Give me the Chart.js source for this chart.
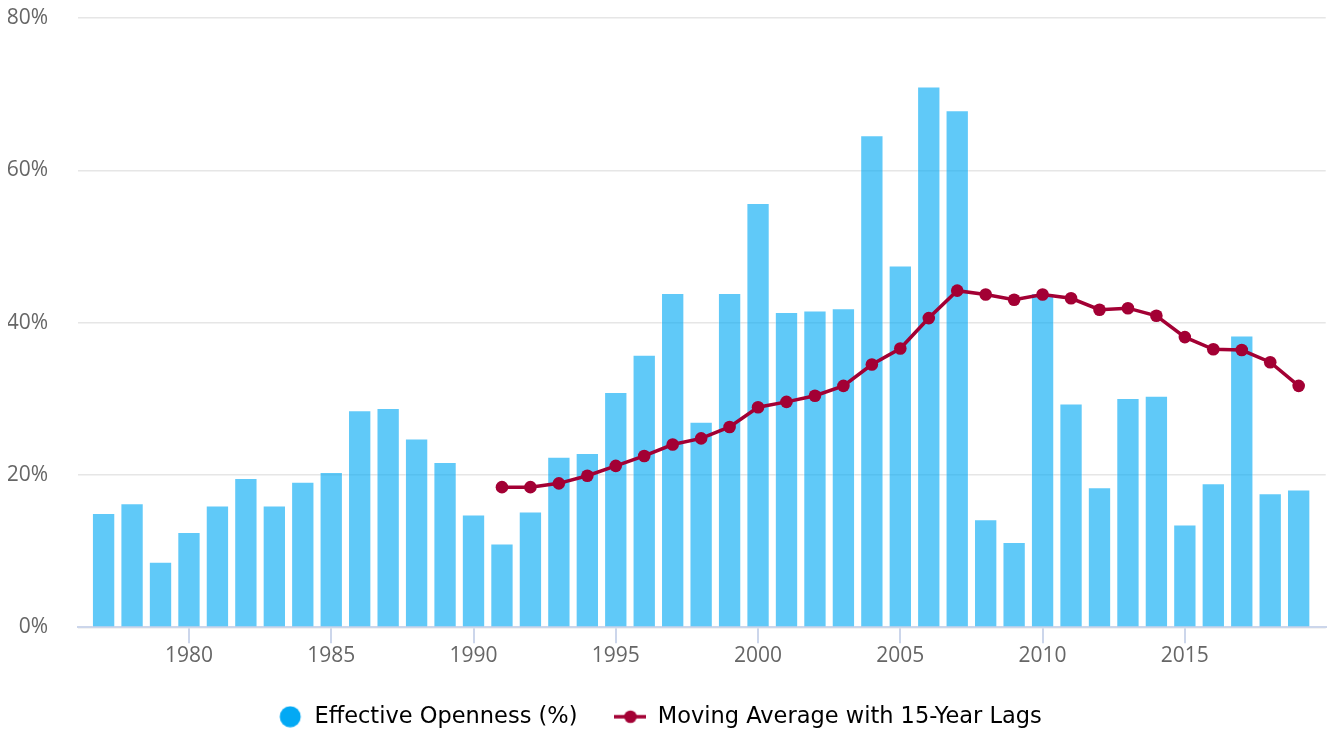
<!DOCTYPE html>
<html>
<head>
<meta charset="utf-8">
<script src="https://cdn.jsdelivr.net/npm/chart.js@4/dist/chart.umd.min.js"></script>
<style>
  html, body { margin: 0; padding: 0; background: #fff; }
  #wrap { width: 1332px; height: 734px; }
</style>
</head>
<body>
<div id="wrap"><canvas id="chart" width="1332" height="734"></canvas></div>
<script>
const years = [1977, 1978, 1979, 1980, 1981, 1982, 1983, 1984, 1985, 1986,
  1987, 1988, 1989, 1990, 1991, 1992, 1993, 1994, 1995, 1996,
  1997, 1998, 1999, 2000, 2001, 2002, 2003, 2004, 2005, 2006,
  2007, 2008, 2009, 2010, 2011, 2012, 2013, 2014, 2015, 2016,
  2017, 2018, 2019];
const openness = [15.0, 16.3, 8.6, 12.5, 16.0, 19.6, 16.0, 19.1, 20.4, 28.5,
  28.8, 24.8, 21.7, 14.8, 11.0, 15.2, 22.4, 22.9, 30.9, 35.8,
  43.9, 27.0, 43.9, 55.7, 41.4, 41.6, 41.9, 64.6, 47.5, 71.0,
  67.9, 14.2, 11.2, 43.9, 29.4, 18.4, 30.1, 30.4, 13.5, 18.9,
  38.3, 17.6, 18.1];

const maYears = [1991, 1992, 1993, 1994, 1995, 1996, 1997, 1998, 1999, 2000,
  2001, 2002, 2003, 2004, 2005, 2006, 2007, 2008, 2009, 2010,
  2011, 2012, 2013, 2014, 2015, 2016, 2017, 2018, 2019];
const movingAvg = [18.4, 18.4, 18.9, 19.9, 21.2, 22.5, 24.0, 24.8, 26.3, 28.9,
  29.6, 30.4, 31.7, 34.5, 36.6, 40.6, 44.2, 43.7, 43.0, 43.7,
  43.2, 41.7, 41.9, 40.9, 38.1, 36.5, 36.4, 34.8, 31.7];

const xTicks = [1980, 1985, 1990, 1995, 2000, 2005, 2010, 2015];
const yTicks = [0, 20, 40, 60, 80];

const barColor = "rgba(3, 169, 244, 0.63)";
const legendBlue = "#03a9f4";
const lineColor = "#a30034";
const tickFont = { family: "'Open Sans', sans-serif", size: 21 };

// legend swatches drawn by hand so the line entry gets its dot
function swatch(draw) {
  const c = document.createElement("canvas");
  c.width = 32;
  c.height = 22;
  draw(c.getContext("2d"));
  return c;
}
const circleIcon = swatch((g) => {
  g.fillStyle = legendBlue;
  g.beginPath();
  g.arc(19, 11, 10.5, 0, Math.PI * 2);
  g.fill();
});
const lineIcon = swatch((g) => {
  g.strokeStyle = lineColor;
  g.lineWidth = 3.5;
  g.beginPath();
  g.moveTo(0, 11);
  g.lineTo(32, 11);
  g.stroke();
  g.fillStyle = lineColor;
  g.beginPath();
  g.arc(16, 11, 6.3, 0, Math.PI * 2);
  g.fill();
});

// nudge the centred legend a little to the left, like the original
const legendShift = {
  id: "legendShift",
  beforeDraw(chart) {
    const lg = chart.legend;
    lg.left -= 11;
    lg.right -= 11;
    lg.adjustHitBoxes();
  },
};

const ctx = document.getElementById("chart").getContext("2d");
new Chart(ctx, {
  type: "bar",
  data: {
    datasets: [
      {
        // index 0 so the line is painted over the bars
        type: "line",
        label: "Moving Average with 15-Year Lags",
        data: maYears.map((x, i) => ({ x, y: movingAvg[i] })),
        borderColor: lineColor,
        backgroundColor: lineColor,
        borderWidth: 3.5,
        pointRadius: 6.3,
        pointBorderWidth: 0,
        pointBackgroundColor: lineColor,
        tension: 0,
        fill: false,
      },
      {
        type: "bar",
        label: "Effective Openness (%)",
        data: years.map((x, i) => ({ x, y: openness[i] })),
        backgroundColor: barColor,
        borderColor: "rgba(255, 255, 255, 0.35)",
        borderWidth: 1,
        borderSkipped: "start",
        barPercentage: 0.82,
        categoryPercentage: 1,
      },
    ],
  },
  plugins: [legendShift],
  options: {
    responsive: false,
    animation: false,
    layout: { padding: { left: 8, right: 5, top: 0, bottom: -4 } },
    plugins: {
      tooltip: { enabled: false },
      legend: {
        position: "bottom",
        labels: {
          usePointStyle: true,
          pointStyleWidth: 32,
          padding: 37,
          color: "#333333",
          font: { family: "'DejaVu Sans', sans-serif", size: 22.5 },
          generateLabels: () => [
            { text: "Effective Openness (%)", pointStyle: circleIcon, datasetIndex: 1,
              fillStyle: legendBlue, strokeStyle: legendBlue, lineWidth: 0, hidden: false },
            { text: "Moving Average with 15-Year Lags", pointStyle: lineIcon, datasetIndex: 0,
              fillStyle: lineColor, strokeStyle: lineColor, lineWidth: 0, hidden: false },
          ],
        },
      },
    },
    scales: {
      x: {
        type: "linear",
        min: 1976.1,
        max: 2019.95,
        offset: false,
        afterBuildTicks: (scale) => {
          scale.ticks = xTicks.map((v) => ({ value: v }));
        },
        ticks: {
          autoSkip: false,
          maxRotation: 0,
          padding: 0,
          color: "#666666",
          font: tickFont,
          callback: (v) => String(v),
        },
        grid: {
          offset: false,
          drawOnChartArea: false,
          color: "#ccd6eb",
          lineWidth: 2,
          tickLength: 16,
        },
        border: { color: "#ccd6eb", width: 2 },
      },
      y: {
        min: 0,
        max: 80,
        afterBuildTicks: (scale) => {
          scale.ticks = yTicks.map((v) => ({ value: v }));
        },
        // fixed axis width, labels sit 30px left of the plot
        afterFit: (scale) => {
          scale.width = 70;
          scale.paddingTop = 18;
          scale.paddingBottom = 0;
        },
        ticks: {
          padding: 30,
          color: "#666666",
          font: tickFont,
          callback: (v) => v + "%",
        },
        grid: { color: "#e6e6e6", lineWidth: 1.4, drawTicks: false },
        border: { display: false },
      },
    },
  },
});
</script>
</body>
</html>
